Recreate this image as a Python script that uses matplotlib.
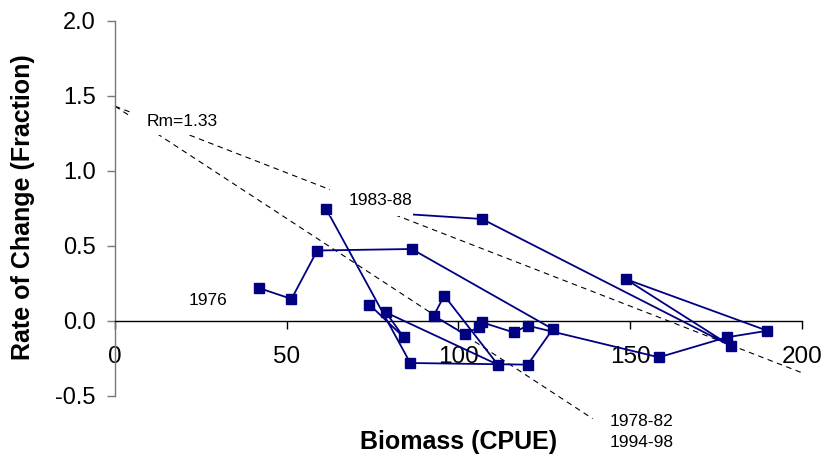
import numpy as np
import matplotlib
matplotlib.use("Agg")
import matplotlib.pyplot as plt
from matplotlib.patches import Rectangle

plt.rcParams['font.family'] = ['Liberation Sans', 'DejaVu Sans']

# ---- data (chronological, 1976-2000) ----
years = list(range(1976, 2001))
biomass = [41.9, 51.4, 58.9, 86.4, 127.5, 120.2, 86.0, 61.5, 106.9, 179.3,
           148.7, 190.0, 178.1, 158.4, 120.2, 116.1, 106.9, 105.9, 101.8, 92.8,
           95.9, 111.5, 78.9, 84.1, 74.1]
rate = [0.218, 0.145, 0.468, 0.478, -0.056, -0.293, -0.282, 0.745, 0.678, -0.167,
        0.278, -0.067, -0.111, -0.244, -0.033, -0.078, -0.011, -0.044, -0.089, 0.033,
        0.167, -0.293, 0.055, -0.110, 0.107]

# reference lines: r = r0 * (1 - B/K)
line_r0 = [1.43, 1.43]
line_K = [161.0, 95.5]
line_xmax = [199.7, 139.1]

x_ticks = [0, 50, 100, 150, 200]
y_ticks = [-0.5, 0.0, 0.5, 1.0, 1.5, 2.0]

navy = '#000080'

fig = plt.figure(figsize=(8.26, 4.58), dpi=100)
ax = fig.add_axes([115/826, 1-395.7/458, (801.7-115)/826, (395.7-20.7)/458])
ax.set_xlim(0, 200)
ax.set_ylim(-0.5, 2.0)

# dashed model lines
for r0, K, xm in zip(line_r0, line_K, line_xmax):
    xs = np.array([0.0, xm])
    ax.plot(xs, r0 * (1 - xs / K), color='black', lw=0.8,
            ls=(0, (5, 4)), zorder=2, clip_on=False)

# trajectory line
ax.plot(biomass, rate, color=navy, lw=1.3, zorder=3)

# white label boxes (as in original, covering lines)
ax.add_patch(Rectangle((4.4, 1.24), 29.7, 0.18, facecolor='white',
                       edgecolor='none', zorder=4))
ax.add_patch(Rectangle((62.7, 0.70), 24.2, 0.19, facecolor='white',
                       edgecolor='none', zorder=4))

# markers
ax.plot(biomass, rate, ls='none', marker='s', ms=7.2, color=navy,
        mec=navy, zorder=5)

# annotations
ax.text(9.3, 1.325, 'Rm=1.33', fontsize=12.5, ha='left', va='center', zorder=6)
ax.text(67.9, 0.80, '1983-88', fontsize=12.5, ha='left', va='center', zorder=6)
ax.text(21.3, 0.135, '1976', fontsize=12.5, ha='left', va='center', zorder=6)
ax.text(144.2, -0.673, '1978-82', fontsize=12.5, ha='left', va='center',
        zorder=6, clip_on=False)
ax.text(144.2, -0.813, '1994-98', fontsize=12.5, ha='left', va='center',
        zorder=6, clip_on=False)

# axes styling
for s in ['top', 'right']:
    ax.spines[s].set_visible(False)
ax.spines['bottom'].set_position(('data', 0))
ax.spines['bottom'].set_color('black')
ax.spines['left'].set_color('#777777')
ax.spines['bottom'].set_linewidth(1.0)
ax.spines['left'].set_linewidth(1.0)

ax.set_xticks(x_ticks)
ax.set_xticklabels([str(v) for v in x_ticks])
ax.set_yticks(y_ticks)
ax.set_yticklabels([f'{v:.1f}' for v in y_ticks])
ax.tick_params(axis='x', direction='out', length=6, width=1, color='black',
               labelsize=17.5, pad=12)
ax.tick_params(axis='y', direction='out', length=6, width=1, color='#777777',
               labelsize=17, pad=8)

fig.text(459/826, 1-442/458, 'Biomass (CPUE)', fontsize=18, fontweight='bold',
         ha='center', va='center')
fig.text(23/826, 1-207.5/458, 'Rate of Change (Fraction)', fontsize=18,
         fontweight='bold', rotation=90, ha='center', va='center')

fig.savefig('out.png', dpi=100)
